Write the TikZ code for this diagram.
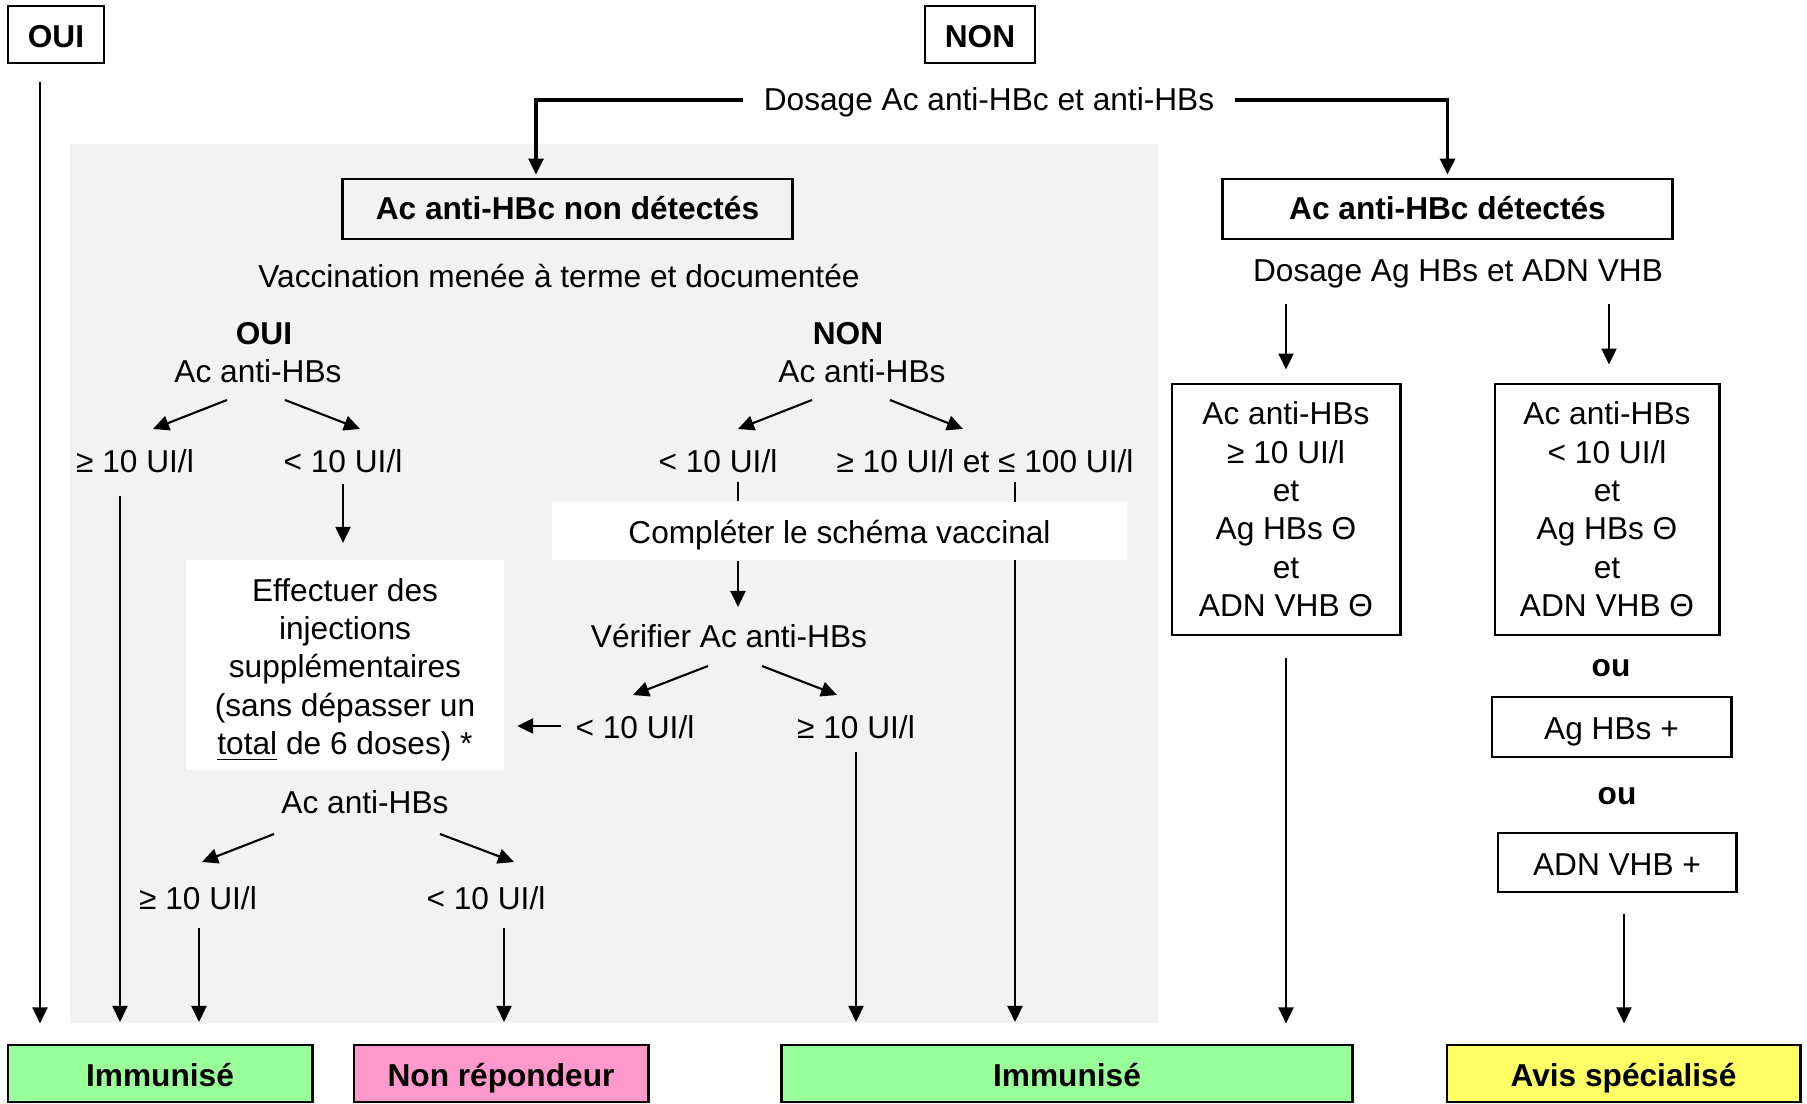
\documentclass[tikz,border=0pt]{standalone}
\usepackage{fontspec}
\setmainfont{Liberation Sans}
\usepackage{tikz}
\usetikzlibrary{calc, arrows.meta}
\definecolor{bggray}{RGB}{242,242,242}
\definecolor{immgreen}{RGB}{153,255,153}
\definecolor{nrpink}{RGB}{255,153,204}
\definecolor{avisyellow}{RGB}{255,255,102}
\newcommand{\chartfont}{\fontsize{9}{10.9}\selectfont}
\tikzset{every node/.append style={font=\chartfont}}

\begin{document}
\begin{tikzpicture}[x=0.01cm, y=-0.01cm, line width=0.6pt,
    >={Triangle[length=0.16cm, width=0.15cm]},
    oneline/.style={text height=0.75em, text depth=0.16em},
    boxline/.style={text height=0.82em, text depth=0.1em},
    box/.style={draw, line width=0.8pt, inner sep=0pt, align=center},
    bold/.style={font=\chartfont\bfseries},
    lbl/.style={inner sep=0pt, oneline},
    whitebox/.style={fill=white, inner sep=0pt, align=center},
    outcome/.style={box, bold, boxline, minimum height=0.57cm}]
    \useasboundingbox (0,0) rectangle (1807,1104);
    \fill[bggray] (70,144) rectangle (1158,1023);

    \node[box, bold, boxline, minimum width=0.96cm, minimum height=0.57cm] (oui) at (56,34.5) {OUI};
    \node[box, bold, boxline, minimum width=1.10cm, minimum height=0.57cm] (non) at (980,34.5) {NON};
    \node[lbl, inner xsep=0.2cm] (dosage) at (989,100) {Dosage Ac anti-HBc et anti-HBs};
    \node[box, bold, oneline, minimum width=4.49cm, minimum height=0.60cm] (hbcneg) at (567.5,209) {Ac anti-HBc non détectés};
    \node[box, bold, oneline, minimum width=4.49cm, minimum height=0.60cm] (hbcpos) at (1447.5,209) {Ac anti-HBc détectés};
    \draw[line width=0.9pt, ->] (dosage.west) -| ($(hbcneg.north)+(-31.5,-3)$);
    \draw[line width=0.9pt, ->] (dosage.east) -| ($(hbcpos.north)+(0,-3)$);
    \draw[->] ($(oui.south)+(-16,18)$) -- ($(oui.south)+(-16,959)$);

    \node[lbl] (vacc) at (559,277) {Vaccination menée à terme et documentée};

    \node[lbl, bold] (vaccoui) at (264,334) {OUI};
    \node[lbl] (hbsoui) at (258,372) {Ac anti-HBs};
    \node[lbl] (ouige) at (135,462) {≥ 10 UI/l};
    \node[lbl] (ouilt) at (343,462) {< 10 UI/l};
    \draw[->] ($(hbsoui)+(-31,28)$) -- ($(hbsoui)+(-105,57)$);
    \draw[->] ($(hbsoui)+(27,28)$) -- ($(hbsoui)+(102,57)$);
    \draw[->] ($(ouige)+(-15,34)$) -- ($(ouige)+(-15,560)$);
    \node[whitebox, minimum width=3.18cm, minimum height=2.10cm] (effect) at (345,665)
        {\rule{0pt}{9.3pt}Effectuer des\\injections\\supplémentaires\\(sans dépasser un\\\underline{total} de 6 doses) *};
    \draw[->] ($(ouilt)+(0,22)$) -- ($(effect.north)+(-2,-16)$);

    \node[lbl, bold] (vaccnon) at (848,334) {NON};
    \node[lbl] (hbsnon) at (862,372) {Ac anti-HBs};
    \node[lbl] (nonlt) at (718,462) {< 10 UI/l};
    \node[lbl] (nonge) at (985,462) {≥ 10 UI/l et ≤ 100 UI/l};
    \draw[->] ($(hbsnon)+(-50,28)$) -- ($(hbsnon)+(-124,57)$);
    \draw[->] ($(hbsnon)+(28,28)$) -- ($(hbsnon)+(101,57)$);
    \draw[->] ($(nonge)+(30,20)$) -- ($(nonge)+(30,560)$);
    \node[whitebox, boxline, minimum width=5.75cm, minimum height=0.58cm] (complete) at (839.5,531) {Compléter le schéma vaccinal};
    \draw ($(nonlt)+(20,20)$) -- ($(complete.north)+(-101.5,0)$);
    \node[lbl] (verif) at (729,637) {Vérifier Ac anti-HBs};
    \draw[->] ($(complete.south)+(-101.5,0)$) -- ($(verif)+(9,-30)$);
    \node[lbl] (veriflt) at (635,728) {< 10 UI/l};
    \node[lbl] (verifge) at (856,728) {≥ 10 UI/l};
    \draw[->] ($(verif)+(-21,29)$) -- ($(verif)+(-96,58)$);
    \draw[->] ($(verif)+(33,29)$) -- ($(verif)+(108,58)$);
    \draw[->] ($(veriflt.west)+(-14,-2)$) -- ($(effect.east)+(12,61)$);
    \draw[->] ($(verifge)+(0,24)$) -- ($(verifge)+(0,294)$);

    \node[lbl] (hbs3) at (365,803) {Ac anti-HBs};
    \node[lbl] (ge3) at (198,899) {≥ 10 UI/l};
    \node[lbl] (lt3) at (486,899) {< 10 UI/l};
    \draw[->] ($(hbs3)+(-91,31)$) -- ($(hbs3)+(-163,59)$);
    \draw[->] ($(hbs3)+(75,31)$) -- ($(hbs3)+(149,59)$);
    \draw[->] ($(ge3)+(1,29)$) -- ($(ge3)+(1,123)$);
    \draw[->] ($(lt3)+(18,29)$) -- ($(lt3)+(18,123)$);

    \node[lbl] (dosage2) at (1458,271) {Dosage Ag HBs et ADN VHB};
    \node[box, minimum width=2.28cm, minimum height=2.51cm] (res1) at (1286,509.5)
        {Ac anti-HBs\\≥ 10 UI/l\\et\\Ag HBs Θ\\et\\ADN VHB Θ};
    \node[box, minimum width=2.24cm, minimum height=2.51cm] (res2) at (1607,509.5)
        {Ac anti-HBs\\< 10 UI/l\\et\\Ag HBs Θ\\et\\ADN VHB Θ};
    \draw[->] ($(res1.north)+(0,-79)$) -- ($(res1.north)+(0,-13)$);
    \draw[->] ($(res2.north)+(2,-79)$) -- ($(res2.north)+(2,-18)$);
    \draw[->] ($(res1.south)+(0,22)$) -- ($(res1.south)+(0,387)$);
    \node[lbl, bold] (ou1) at (1611,666) {ou};
    \node[box, boxline, minimum width=2.39cm, minimum height=0.60cm] (agpos) at (1611.5,727) {Ag HBs +};
    \node[lbl, bold] (ou2) at (1617,794) {ou};
    \node[box, boxline, minimum width=2.38cm, minimum height=0.59cm] (adnpos) at (1617,862.5) {ADN VHB +};
    \draw[->] ($(adnpos.south)+(7,21)$) -- ($(adnpos.south)+(7,130)$);

    \node[outcome, fill=immgreen, minimum width=3.04cm] (imm1) at (160,1073.5) {Immunisé};
    \node[outcome, fill=nrpink, minimum width=2.94cm] (nonrep) at (501,1073.5) {Non répondeur};
    \node[outcome, fill=immgreen, minimum width=5.70cm] (imm2) at (1067,1073.5) {Immunisé};
    \node[outcome, fill=avisyellow, minimum width=3.53cm] (avis) at (1623.5,1073.5) {Avis spécialisé};
\end{tikzpicture}
\end{document}
